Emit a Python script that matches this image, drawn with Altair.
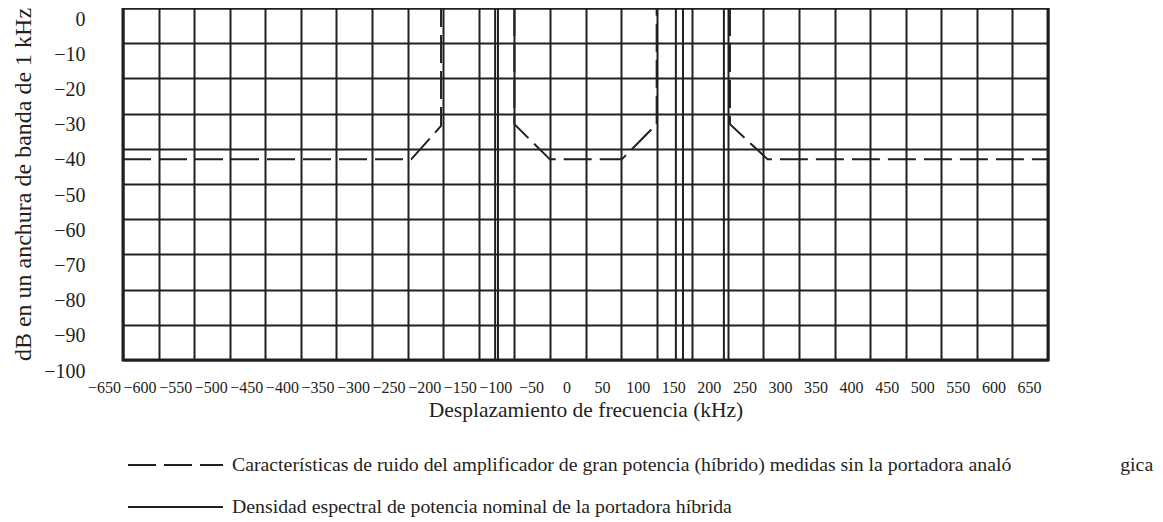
import altair as alt
import pandas as pd

# ---- data ----
dashed_name = ("Características de ruido del amplificador de gran potencia (híbrido) "
               "medidas sin la portadora analó" + "\u00a0" * 22 + "gica")
solid_name = "Densidad espectral de potencia nominal de la portadora híbrida"

# dashed noise characteristic (three separate pieces)
noise_piece = ["izq"] * 4 + ["centro"] * 6 + ["der"] * 4
noise_khz = [-650, -245, -203, -203, -100, -100, -50, 51, 100, 100, 203, 203, 256, 650]
noise_db = [-43, -43, -33.5, 0, 0, -33, -43, -43, -33, 0, 0, -33, -43, -43]

# solid vertical lines (nominal hybrid carrier PSD edges)
solid_khz = [-127, -123, 127, 137, 194.5]

x_ticks = list(range(-650, 651, 50))
y_ticks = list(range(-100, 1, 10))

ink = "#231f20"
serif = "Liberation Serif"

noise_df = pd.DataFrame({
    "khz": noise_khz,
    "db": noise_db,
    "piece": noise_piece,
    "order": list(range(len(noise_khz))),
    "serie": [dashed_name] * len(noise_khz),
})
solid_df = pd.DataFrame({
    "khz": solid_khz,
    "serie": [solid_name] * len(solid_khz),
})

x_scale = alt.Scale(domain=[-650, 650], nice=False, zero=False)
y_scale = alt.Scale(domain=[-100, 0], nice=False, zero=False)

dash_scale = alt.Scale(domain=[dashed_name, solid_name], range=[[28, 8], [1, 0]])

legend = alt.Legend(
    title=None, orient="none", legendX=4, legendY=447,
    symbolType="stroke", symbolSize=9025, symbolStrokeWidth=2,
    symbolStrokeColor=ink, clipHeight=20, rowPadding=22,
    labelFont=serif, labelFontSize=19.8, labelColor=ink, labelLimit=0,
    labelOffset=8, direction="vertical",
)

x_axis = alt.Axis(
    values=x_ticks, title="Desplazamiento de frecuencia (kHz)",
    grid=True, ticks=False, tickSize=0, domain=False,
    labelFont=serif, labelFontSize=16, labelColor=ink, labelPadding=19,
    labelOffset=-19, labelOverlap=False, labelFlush=False, labelBound=False,
    labelSeparation=0,
    titleFont=serif, titleFontSize=21.5, titleFontWeight="normal", titleColor=ink,
    titlePadding=4,
)
y_axis = alt.Axis(
    values=y_ticks, title="dB en un anchura de banda de 1 kHz",
    grid=True, ticks=False, tickSize=0, domain=False,
    labelFont=serif, labelFontSize=20, labelColor=ink, labelPadding=38,
    labelOffset=11, labelOverlap=False, labelFlush=False, labelBound=False,
    titleFont=serif, titleFontSize=24, titleFontWeight="normal", titleColor=ink,
    titlePadding=8,
)

noise = alt.Chart(noise_df).mark_line(color=ink, strokeWidth=2).encode(
    x=alt.X("khz:Q", scale=x_scale, axis=x_axis),
    y=alt.Y("db:Q", scale=y_scale, axis=y_axis),
    detail="piece:N",
    order="order:Q",
    strokeDash=alt.StrokeDash("serie:N", scale=dash_scale, legend=legend),
)

solid = alt.Chart(solid_df).mark_rule(color=ink, strokeWidth=2).encode(
    x=alt.X("khz:Q", scale=x_scale, axis=x_axis),
    strokeDash=alt.StrokeDash("serie:N", scale=dash_scale, legend=legend),
)

chart = alt.layer(solid, noise).properties(
    width=925, height=352,
    autosize=alt.AutoSizeParams(type="none"),
    padding={"left": 115, "top": 0, "right": 107, "bottom": 170},
).configure_view(
    stroke=ink, strokeWidth=3,
).configure_axis(
    gridColor=ink, gridWidth=2, gridOpacity=1,
)

chart.save("out.html", embed_options={"renderer": "svg", "actions": False})
